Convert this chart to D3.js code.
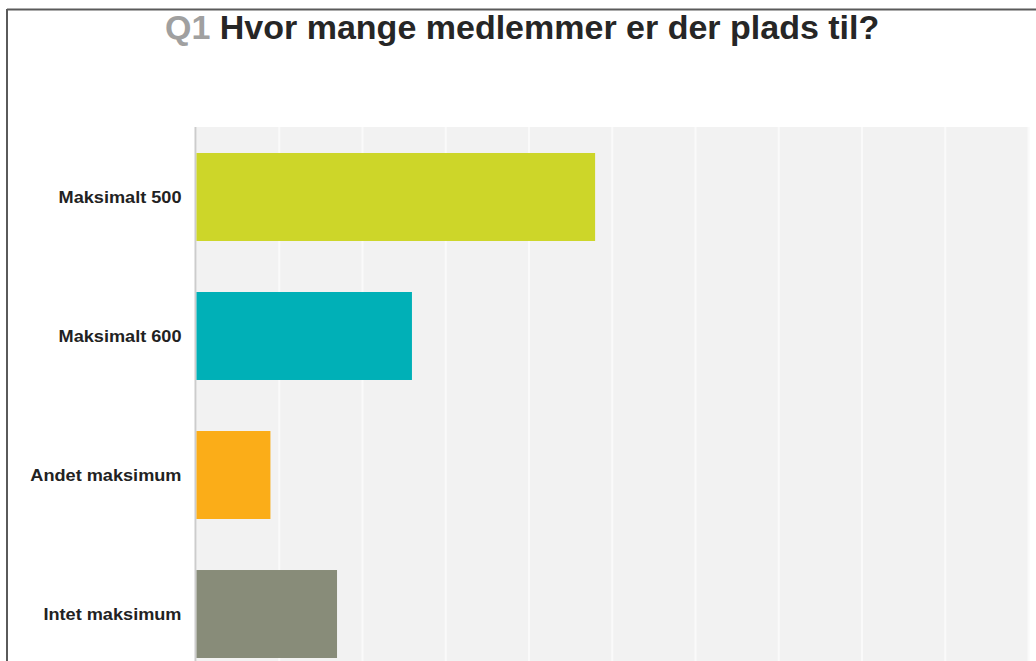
<!DOCTYPE html>
<html>
<head>
<meta charset="utf-8">
<script src="https://cdn.jsdelivr.net/npm/d3@7"></script>
<style>
  html, body { margin: 0; padding: 0; background: #fff; overflow: hidden; }
  svg { display: block; }
</style>
</head>
<body>
<svg id="chart" width="1036" height="661"></svg>
<script>
// ---- data ----
const titlePrefix = "Q1";
const titleText = "Hvor mange medlemmer er der plads til?";
const categories = ["Maksimalt 500", "Maksimalt 600", "Andet maksimum", "Intet maksimum"];
const values = [0.48, 0.26, 0.09, 0.17];
const barColors = ["#cdd629", "#00b0b7", "#fbad18", "#888c79"];
const tickValues = [0, 0.1, 0.2, 0.3, 0.4, 0.5, 0.6, 0.7, 0.8, 0.9, 1.0];

// ---- layout ----
const W = 1036, H = 661;
const plot = { left: 195.5, right: 1028, top: 127, bottom: 684 };
const svg = d3.select("#chart");

// frame
svg.append("line").attr("x1", 7).attr("x2", W).attr("y1", 9.5).attr("y2", 9.5)
  .attr("stroke", "#5a5a5a").attr("stroke-width", 2);
svg.append("line").attr("x1", 7).attr("x2", 7).attr("y1", 9).attr("y2", H)
  .attr("stroke", "#5a5a5a").attr("stroke-width", 2);

// title
const title = svg.append("text")
  .attr("x", 165).attr("y", 39)
  .attr("font-family", "'Liberation Sans', Arial, sans-serif")
  .attr("font-weight", "bold").attr("font-size", 34);
title.append("tspan").attr("fill", "#a0a0a0").text(titlePrefix);
title.append("tspan").attr("fill", "#262626").text(" " + titleText);

// scales
const x = d3.scaleLinear().domain([0, 1]).range([plot.left, plot.right]);
const y = d3.scaleBand().domain(categories).range([plot.top, plot.bottom])
  .paddingInner(0.367).paddingOuter(0.187);

// plot background
svg.append("rect")
  .attr("x", plot.left).attr("y", plot.top)
  .attr("width", plot.right - plot.left).attr("height", plot.bottom - plot.top)
  .attr("fill", "#f2f2f2");

// gridlines
const grid = svg.append("g")
  .attr("transform", `translate(0,${plot.top})`)
  .call(d3.axisBottom(x).tickValues(tickValues).tickSize(plot.bottom - plot.top).tickFormat(""));
grid.select(".domain").remove();
grid.selectAll(".tick line").attr("stroke", "#fafafa").attr("stroke-width", 2);

// axis line
svg.append("line")
  .attr("x1", x(0)).attr("x2", x(0)).attr("y1", plot.top).attr("y2", plot.bottom)
  .attr("stroke", "#cccccc").attr("stroke-width", 2);

// bars
svg.append("g").selectAll("rect").data(categories).join("rect")
  .attr("x", x(0) + 1)
  .attr("y", d => y(d))
  .attr("width", (d, i) => x(values[i]) - x(0) - 1)
  .attr("height", y.bandwidth())
  .attr("fill", (d, i) => barColors[i]);

// category labels
const labels = svg.append("g").selectAll("g").data(categories).join("g")
  .attr("transform", d => `translate(${plot.left - 14},${y(d) + y.bandwidth() / 2})`);
labels.append("text")
  .attr("text-anchor", "end")
  .attr("dy", "0.36em")
  .attr("transform", "scale(1.1,1)")
  .attr("font-family", "'Liberation Sans', Arial, sans-serif")
  .attr("font-weight", "bold").attr("font-size", 16.5)
  .attr("fill", "#222222")
  .text(d => d);
</script>
</body>
</html>
